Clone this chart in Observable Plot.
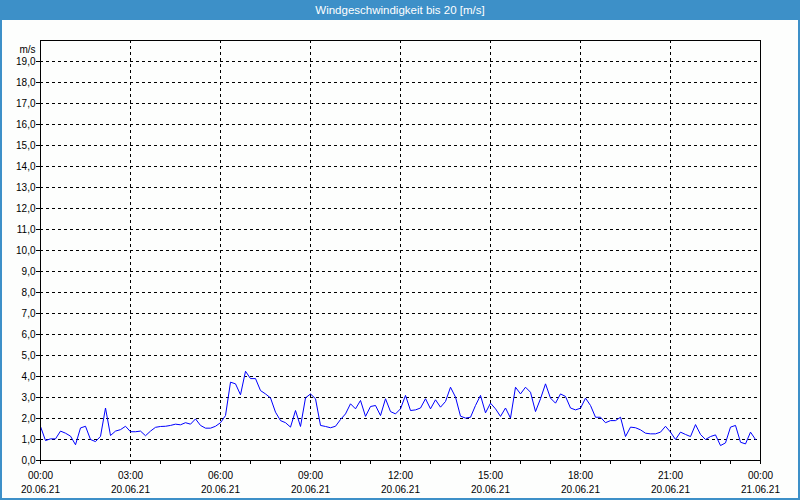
<!DOCTYPE html>
<html><head><meta charset="utf-8">
<script src="https://cdn.jsdelivr.net/npm/d3@7"></script>
<script src="https://cdn.jsdelivr.net/npm/@observablehq/plot@0.6"></script>
<style>
html,body{margin:0;padding:0;background:#fff;}
#wrap{position:relative;width:800px;height:500px;overflow:hidden;background:#fdfefd;font-family:"Liberation Sans",Arial,sans-serif;}
#title{height:20px;line-height:20px;background:#3d90c8;color:#fff;text-align:center;font-size:11.5px;}
#border{position:absolute;left:0;top:0;right:0;bottom:0;border:2px solid #3d90c8;border-top:none;pointer-events:none;box-sizing:border-box;}
svg{display:block;}
</style></head><body>
<div id="wrap"><div id="title">Windgeschwindigkeit bis 20 [m/s]</div><div id="chart"></div><div id="border"></div></div>
<script>
// wind speed, one value every 10 minutes from 20.06.21 00:00 to 23:50
const speeds = [
  1.62,0.95,1.03,1.03,1.40,1.30,1.16,0.75,1.55,1.63,1.00,0.90,1.15,2.50,1.19,1.40,1.47,1.63,
  1.37,1.37,1.40,1.18,1.40,1.58,1.62,1.63,1.67,1.73,1.70,1.80,1.73,1.98,1.67,1.54,1.54,1.63,
  1.80,2.14,3.73,3.65,3.13,4.25,3.90,3.90,3.33,3.17,2.98,2.30,1.90,1.80,1.59,2.38,1.62,2.98,
  3.17,2.94,1.67,1.62,1.56,1.63,1.95,2.22,2.70,2.46,2.86,2.10,2.57,2.62,2.14,2.94,2.33,2.22,
  2.46,3.10,2.38,2.41,2.50,2.94,2.46,2.89,2.54,2.81,3.49,3.02,2.11,2.02,2.06,2.62,3.10,2.27,
  2.73,2.46,2.10,2.50,2.02,3.49,3.17,3.49,3.25,2.33,2.94,3.65,2.97,2.73,3.17,3.05,2.50,2.41,
  2.49,2.97,2.62,2.06,2.06,1.80,1.90,1.90,2.06,1.14,1.59,1.56,1.46,1.30,1.27,1.27,1.35,1.63,
  1.35,1.00,1.35,1.24,1.14,1.71,1.24,1.00,1.14,1.22,0.71,0.84,1.59,1.67,0.87,0.79,1.35,1.00
];
const stepHours = 10 / 60;
const majorHours = [0, 3, 6, 9, 12, 15, 18, 21, 24];
const timeLabels = ["00:00","03:00","06:00","09:00","12:00","15:00","18:00","21:00","00:00"];
const dateLabels = ["20.06.21","20.06.21","20.06.21","20.06.21","20.06.21","20.06.21","20.06.21","20.06.21","21.06.21"];
const yTicks = d3.range(0, 20);
const yTickLabels = ["0,0","1,0","2,0","3,0","4,0","5,0","6,0","7,0","8,0","9,0","10,0","11,0","12,0","13,0","14,0","15,0","16,0","17,0","18,0","19,0"];
const unitLabel = "m/s";

const data = speeds.map((v, i) => ({h: i * stepHours, v}));

const chart = Plot.plot({
  width: 800,
  height: 480,
  marginTop: 20,
  marginBottom: 40,
  marginLeft: 40,
  marginRight: 40,
  style: {fontFamily: "'Liberation Sans', Arial, sans-serif", fontSize: "10px", color: "#000", background: "transparent"},
  x: {domain: [0, 24], label: null},
  y: {domain: [0, 20], label: null},
  marks: [
    Plot.gridY(d3.range(1, 20), {stroke: "#000", strokeOpacity: 1, strokeDasharray: "3,3"}),
    Plot.gridX(majorHours.slice(1, -1), {stroke: "#000", strokeOpacity: 1, strokeDasharray: "3,3"}),
    Plot.axisY({ticks: yTicks, tickSize: 4, tickPadding: 1, tickFormat: d => yTickLabels[d], stroke: "#000", label: null}),
    Plot.axisX({ticks: d3.range(0, 25), tickSize: 4, tickFormat: () => "", stroke: "#000", label: null}),
    Plot.axisX({ticks: majorHours, tickSize: 0, tickPadding: 11, tickFormat: d => timeLabels[majorHours.indexOf(d)], label: null}),
    Plot.axisX({ticks: majorHours, tickSize: 0, tickPadding: 25, tickFormat: d => dateLabels[majorHours.indexOf(d)], label: null}),
    Plot.line(data, {x: "h", y: "v", stroke: "#0000ff", strokeWidth: 1}),
    Plot.frame({stroke: "#000"}),
    Plot.text([unitLabel], {frameAnchor: "top-left", dx: -5, dy: 5, textAnchor: "end", fontSize: 10})
  ]
});
document.getElementById("chart").append(chart);
</script>
</body></html>
